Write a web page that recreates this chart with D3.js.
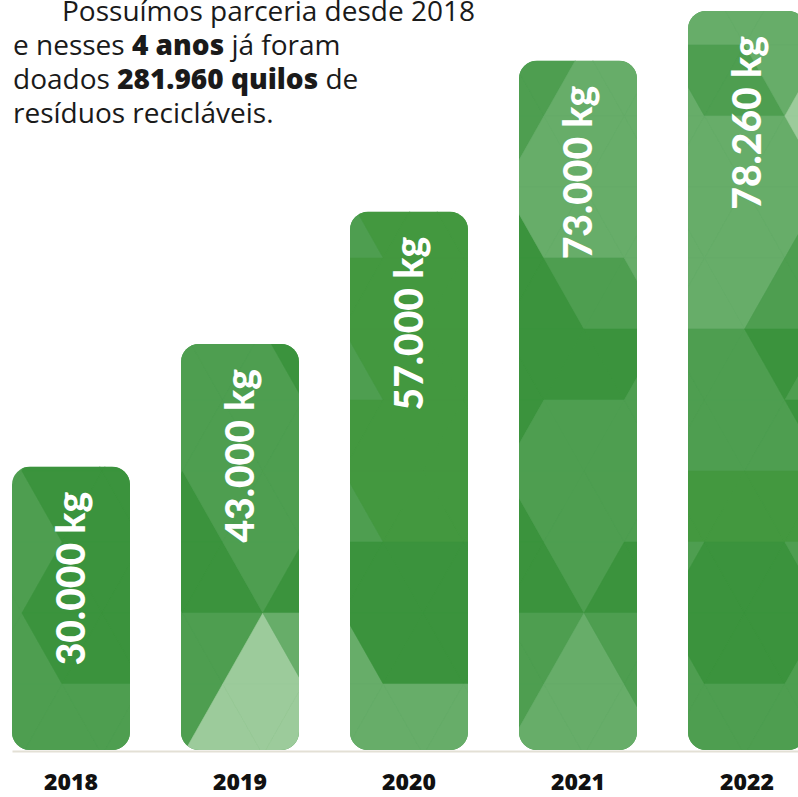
<!DOCTYPE html>
<html>
<head>
<meta charset="utf-8">
<script src="https://cdn.jsdelivr.net/npm/d3@7"></script>
<style>
  html, body { margin: 0; padding: 0; background: #fff; }
  svg { display: block; }
</style>
</head>
<body>
<script>
// data
const years = ["2018", "2019", "2020", "2021", "2022"];
const values = [30000, 43000, 57000, 73000, 78260];

// intro text, one entry per line: [text, bold?]
const introLines = [
  [["Possuímos parceria desde 2018", false]],
  [["e nesses ", false], ["4 anos", true], [" já foram", false]],
  [["doados ", false], ["281.960 quilos", true], [" de", false]],
  [["resíduos recicláveis.", false]]
];

// background facets for each bar: first triangle column, first row, shade per triangle
// d = dark, e = dark-ish, m = medium, l = light, v = very light
const facetStart = [-1, 3, 7, 11, 15];
const facetRow0 = [6, 5, 3, 1, 0];
const facets = [
  ["mddd", "mddd", "mddd", "mddd", "mmmm"],
  ["mmmd", "mmmm", "dmmm", "ddmd", "mmvl", "mvvv"],
  ["meeee", "eeeee", "meeee", "eeeee", "meeee", "ddddd", "ldddd", "lllll"],
  ["mmlll", "mllll", "dllll", "ddmml", "ddddm", "dmmmm", "dmmmm", "ddmdd", "mmlmm", "mlllm"],
  ["lllll", "lmmlv", "llllv", "llllm", "lllmm", "mmmdm", "mmmmd", "eeeee", "mdddm", "mdddm", "mmmmm"]
];
const shade = { d: "#3b933d", e: "#43983f", m: "#4e9e50", l: "#67ad69", v: "#9ccb9b" };

const width = 798, height = 797;

const svg = d3.select("body").append("svg")
    .attr("width", width)
    .attr("height", height);

const x = d3.scaleBand()
    .domain(years)
    .range([12, 806])
    .paddingInner(51 / 169)
    .paddingOuter(0);

const y = d3.scaleLinear()
    .domain([0, 78260])
    .range([750, 11]);

const ptBR = d3.formatLocale({decimal: ",", thousands: ".", grouping: [3], currency: ["R$", ""]});
const fmt = ptBR.format(",d");

// triangle grid
const half = 40.15, gx0 = 22, rowH = 71, gy0 = -26;
const tri = (r, m) => d3.range(3).map(k => {
  const mm = m + k;
  const line = (mm + r) % 2 !== 0 ? r : r + 1;
  return [gx0 + mm * half, gy0 + line * rowH];
});

// axis line + year labels
const axis = svg.append("g")
    .attr("transform", "translate(0,751)")
    .call(d3.axisBottom(x).tickSize(0).tickSizeOuter(0));
axis.select(".domain").attr("stroke", "#e3e0d5").attr("stroke-width", 2);
axis.selectAll("text")
    .attr("y", 39)
    .attr("dy", 0)
    .attr("fill", "#111")
    .attr("font-family", "'Open Sans', sans-serif")
    .attr("font-weight", 800)
    .attr("font-size", 23);

// bars
const defs = svg.append("defs");
years.forEach((yr, i) => {
  defs.append("clipPath").attr("id", "clip" + i)
    .append("rect")
      .attr("x", x(yr))
      .attr("y", y(values[i]))
      .attr("width", x.bandwidth())
      .attr("height", y(0) - y(values[i]))
      .attr("rx", 18);
});

const bars = svg.append("g").selectAll("g")
  .data(years)
  .join("g")
    .attr("clip-path", (d, i) => `url(#clip${i})`);

bars.append("rect")
    .attr("x", d => x(d))
    .attr("y", (d, i) => y(values[i]))
    .attr("width", x.bandwidth())
    .attr("height", (d, i) => y(0) - y(values[i]))
    .attr("fill", shade.m);

bars.each(function(d, i) {
  const cells = [];
  facets[i].forEach((row, ri) => {
    row.split("").forEach((c, ci) => {
      cells.push({pts: tri(facetRow0[i] + ri, facetStart[i] + ci), c: shade[c]});
    });
  });
  d3.select(this).selectAll("polygon")
    .data(cells)
    .join("polygon")
      .attr("points", c => c.pts.map(p => p.join(",")).join(" "))
      .attr("fill", c => c.c)
      .attr("stroke", c => c.c)
      .attr("stroke-width", 0.6);
});

// value labels
svg.append("g").selectAll("text")
  .data(years)
  .join("text")
    .attr("transform", (d, i) => `translate(${x(d) + x.bandwidth() / 2 + 14},${y(values[i]) + 25}) rotate(-90)`)
    .attr("text-anchor", "end")
    .attr("fill", "#fff")
    .attr("font-family", "Lato, sans-serif")
    .attr("font-weight", 900)
    .attr("font-size", 39)
    .text((d, i) => fmt(values[i]) + " kg");

// intro paragraph
const intro = svg.append("g")
    .attr("font-family", "'Open Sans', sans-serif")
    .attr("font-size", 28)
    .attr("fill", "#1a1a1a");
introLines.forEach((parts, li) => {
  const t = intro.append("text")
      .attr("x", li === 0 ? 62 : 13)
      .attr("y", 21 + li * 34);
  parts.forEach(([s, b]) => {
    t.append("tspan")
      .attr("font-weight", b ? 800 : 400)
      .text(s);
  });
});
</script>
</body>
</html>
